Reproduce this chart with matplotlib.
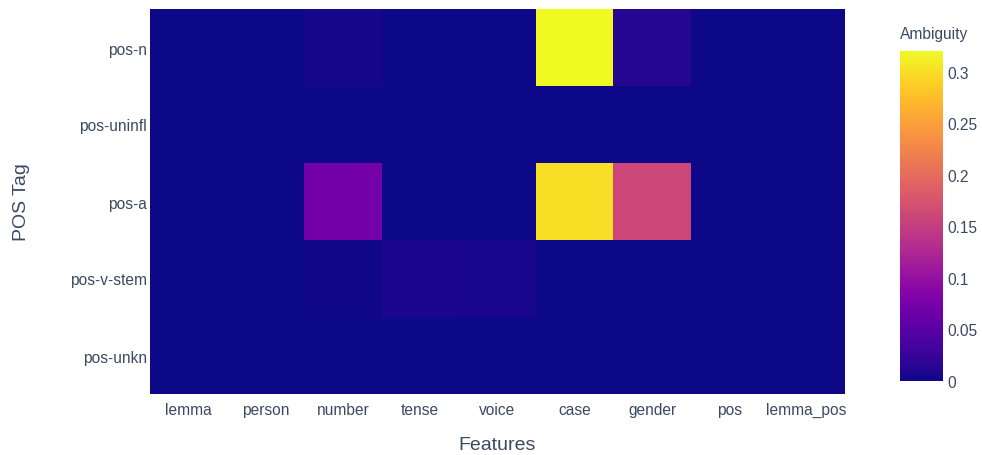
import numpy as np
import matplotlib.pyplot as plt

features = ["lemma", "person", "number", "tense", "voice", "case", "gender", "pos", "lemma_pos"]
pos_tags = ["pos-n", "pos-uninfl", "pos-a", "pos-v-stem", "pos-unkn"]

# ambiguity per POS tag (rows) and feature (columns)
pos_n = [0.0, 0.0, 0.004, 0.0, 0.0, 0.32, 0.012, 0.0, 0.0]
pos_uninfl = [0.0, 0.0, 0.0, 0.0, 0.0, 0.0, 0.0, 0.0, 0.0]
pos_a = [0.0, 0.0, 0.072, 0.0, 0.0, 0.30, 0.16, 0.0, 0.0]
pos_v_stem = [0.0, 0.0, 0.002, 0.007, 0.005, 0.0, 0.0, 0.0, 0.0]
pos_unkn = [0.0, 0.0, 0.0, 0.0, 0.0, 0.0, 0.0, 0.0, 0.0]

Z_MAX = 0.32
TEXT_COLOR = "#3b4a63"

plt.rcParams['font.family'] = ['Liberation Sans', 'DejaVu Sans']


def main():
    z = np.array([pos_n, pos_uninfl, pos_a, pos_v_stem, pos_unkn])

    fig = plt.figure(figsize=(9.82, 4.56), dpi=100)
    ax = fig.add_axes([150 / 982, 1 - 395 / 456, 695 / 982, 385 / 456])
    cax = fig.add_axes([900 / 982, 1 - 382 / 456, 43 / 982, 330 / 456])

    mesh = ax.pcolormesh(np.arange(len(features) + 1) - 0.5,
                         np.arange(len(pos_tags) + 1) - 0.5,
                         z, cmap="plasma", vmin=0, vmax=Z_MAX)
    ax.set_xlim(-0.5, len(features) - 0.5)
    ax.set_ylim(len(pos_tags) - 0.5, -0.5)

    ax.set_xticks(range(len(features)))
    ax.set_xticklabels(features)
    ax.set_yticks(range(len(pos_tags)))
    ax.set_yticklabels(pos_tags)
    ax.tick_params(length=0, labelsize=11.2, labelcolor=TEXT_COLOR, pad=6)
    ax.tick_params(axis="y", pad=2)
    for s in ax.spines.values():
        s.set_visible(False)

    # Títulos de los ejes, colocados a mano
    ax.set_xlabel("Features", fontsize=14, color=TEXT_COLOR, va="center")
    ax.xaxis.set_label_coords(0.5, (395 - 446) / 385)
    ax.set_ylabel("POS Tag", fontsize=14, color=TEXT_COLOR, va="center")
    ax.yaxis.set_label_coords((22 - 150) / 695, 0.5)

    cb = fig.colorbar(mesh, cax=cax)
    cb.set_ticks([0, 0.05, 0.1, 0.15, 0.2, 0.25, 0.3])
    cb.set_ticklabels(["0", "0.05", "0.1", "0.15", "0.2", "0.25", "0.3"])
    cb.ax.tick_params(length=0, labelsize=11.2, labelcolor=TEXT_COLOR, pad=3)
    cb.outline.set_visible(False)
    fig.text(900 / 982, 1 - 35 / 456, "Ambiguity", fontsize=11.2,
             color=TEXT_COLOR, va="center", ha="left")

    fig.savefig("out.png", dpi=100)


if __name__ == '__main__':
    main()
